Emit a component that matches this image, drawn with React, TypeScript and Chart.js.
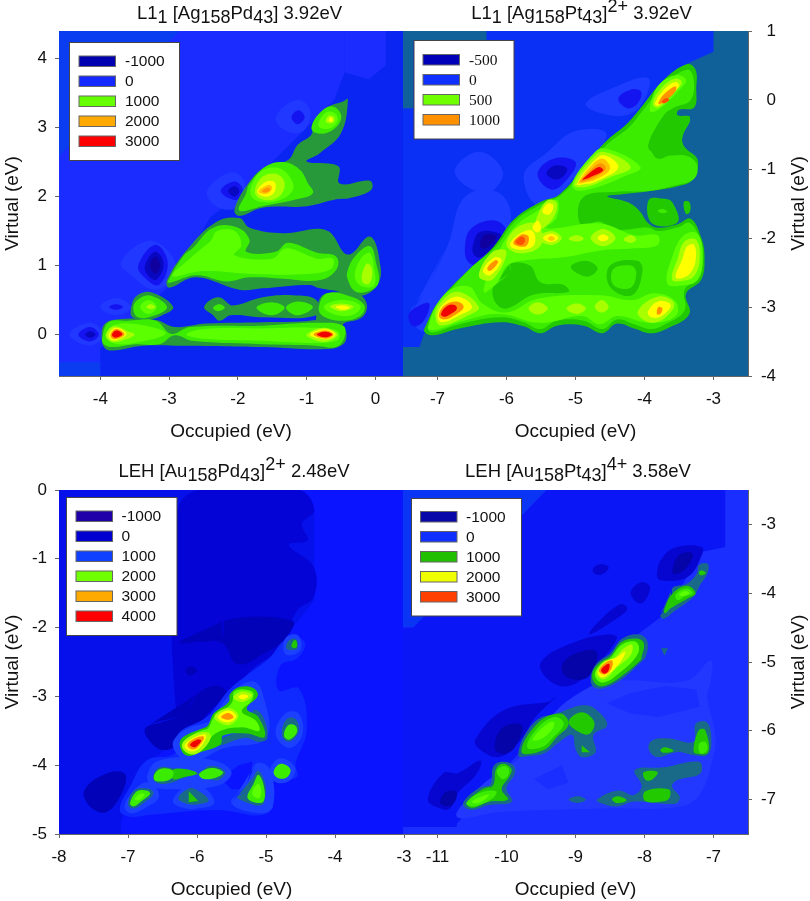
import React, { useEffect, useRef } from "react";
import { Chart, registerables } from "chart.js";

Chart.register(...registerables);

type Shape = [string, number[]];

const LEVEL_COLORS: Record<string, string> = {
  teal: "#10609a", A0: "#0a3cf0", A1: "#1a2cff", A2: "#0a24f2", A3: "#2038ff",
  BB: "#0a30f5", BH: "#1c3cff", C0: "#0a14ff", C1: "#0610ea", C2: "#0404d6", C3: "#0202b8",
  CH: "#0f2aff", CJ: "#1c40ff", D0: "#1a2eff", D1: "#0a35f5", D2: "#0a16f5", D3: "#0606d0", D4: "#0404a8", DH: "#2338ff",
  N1: "#1414f0", N2: "#0808c0", N3: "#1000a0",
  T: "#186a88", G0: "#27993a", G1: "#22c800", G2: "#3cec00", G3: "#5cff00", G4: "#a8ff00",
  Y: "#ffff00", O1: "#ffc400", O: "#ff9400", R1: "#ff5000", R: "#f00000",
};

const occupiedTicksA = [-4, -3, -2, -1, 0];
const virtualTicksA = [0, 1, 2, 3, 4];
const occupiedTicksB = [-7, -6, -5, -4, -3];
const virtualTicksB = [-4, -3, -2, -1, 0, 1];
const occupiedTicksC = [-8, -7, -6, -5, -4, -3];
const virtualTicksC = [-5, -4, -3, -2, -1, 0];
const occupiedTicksD = [-11, -10, -9, -8, -7];
const virtualTicksD = [-7, -6, -5, -4, -3];
const legendA: [string, string][] = [["-1000", "#0000b0"], ["0", "#1428ff"], ["1000", "#66ff00"], ["2000", "#ffaa00"], ["3000", "#ff0000"]];
const legendB: [string, string][] = [["-500", "#0000b8"], ["0", "#1030ff"], ["500", "#70ff00"], ["1000", "#ff9000"]];
const legendC: [string, string][] = [["-1000", "#2000a8"], ["0", "#0000d0"], ["1000", "#1040ff"], ["2000", "#70ff00"], ["3000", "#ffaa00"], ["4000", "#ff0000"]];
const legendD: [string, string][] = [["-1000", "#0808a8"], ["0", "#1030ff"], ["1000", "#20c000"], ["2000", "#f0ff00"], ["3000", "#ff4000"]];

const shapesA: Shape[] = [
  ["A1", [-4.6,-0.6, 0.4,-0.6, 0.4,4.4, -4.6,4.4]],
  ["A0", [-4.6,4.4, -2.85,4.4, -4.6,2.58]],
  ["A2", [-4,-0.6, -4,-0.2, -3,0.7, -2.4,1.7, -2,2, -1,3, -0.6,3.4, -0.45,3.8, -0.45,4.4, 0.4,4.4, 0.4,-0.6]],
  ["A1", [-0.45,4.4, 0.15,4.4, 0.15,3.9, -0.1,3.7, -0.45,3.8]],
  ["A0", [-4.6,-0.6, -4,-0.6, -4,-0.4, -4.6,-0.4]],
  ["A3", [-3.7,1.05, -3.35,1.35, -3.05,1.25, -2.9,0.9, -3.2,0.65, -3.6,0.9]],
  ["N1", [-3.45,1, -3.2,1.3, -3.02,1.05, -3.15,0.72, -3.35,0.82]],
  ["N2", [-3.35,1, -3.2,1.2, -3.08,1.03, -3.18,0.8, -3.3,0.85]],
  ["N3", [-3.28,1, -3.2,1.13, -3.13,1, -3.2,0.88]],
  ["A3", [-4.45,0, -4.15,0.17, -3.95,0, -4.15,-0.16]],
  ["N1", [-4.32,0, -4.15,0.11, -4.02,0, -4.15,-0.1]],
  ["N2", [-4.22,0, -4.14,0.05, -4.07,0, -4.14,-0.05]],
  ["A3", [-4,0.4, -3.77,0.53, -3.55,0.4, -3.77,0.28]],
  ["N1", [-3.87,0.4, -3.77,0.44, -3.67,0.4, -3.77,0.36]],
  ["A3", [-2.45,2.08, -2.1,2.35, -1.9,2.2, -2,1.85, -2.3,1.85]],
  ["N1", [-2.25,2.08, -2.05,2.22, -1.93,2.1, -2.03,1.95]],
  ["N2", [-2.14,2.08, -2.05,2.15, -1.98,2.08, -2.05,2]],
  ["A3", [-1.45,3.15, -1.15,3.4, -0.95,3.25, -1.05,2.95, -1.3,2.95]],
  ["N1", [-1.22,3.15, -1.12,3.25, -1.03,3.15, -1.13,3.05]],
  ["G0", [-3.98,-0.04, -3.94,0.15, -3.77,0.22, -3.19,0.21, -2.92,0.11, -2.46,0.16, -1.64,0.18, -0.88,0.21, -0.86,0.3, -0.79,0.55, -0.57,0.62, -0.35,0.64, -0.16,0.52, -0.13,0.35, -0.23,0.23, -0.47,0.15, -0.42,0.01, -0.47,-0.14, -0.71,-0.21, -1.64,-0.18, -2.9,-0.16, -3.38,-0.16, -3.82,-0.23, -3.94,-0.19]],
  ["G0", [-2.49,0.4, -2.29,0.54, -2.1,0.42, -1.64,0.54, -1.2,0.57, -0.86,0.5, -0.86,0.28, -1.64,0.25, -2.1,0.28, -2.27,0.2, -2.36,0.28]],
  ["G0", [-3.03,0.79, -2.73,1.24, -2.32,1.63, -1.98,1.69, -1.83,1.55, -1.34,1.47, -0.71,1.51, -0.4,1.16, -0.08,1.42, 0.07,1.01, 0.04,0.74, -0.16,0.57, -0.35,0.6, -0.81,0.67, -0.96,0.72, -1.64,0.67, -1.98,0.65, -2.61,0.83, -3,0.68]],
  ["G0", [-2.05,1.81, -1.85,2.19, -1.59,2.44, -1.27,2.53, -1.13,2.75, -0.93,2.9, -0.91,3.07, -0.71,3.29, -0.47,3.38, -0.4,3.41, -0.5,2.92, -0.81,2.63, -1,2.51, -0.54,2.44, -0.52,2.19, -0.08,2.23, -0.06,2.1, -0.37,1.98, -0.57,1.96, -1,1.86, -1.64,1.84, -1.98,1.72]],
  ["G0", [-3.55,0.4, -3.46,0.57, -3.25,0.61, -2.94,0.4, -3.1,0.28, -3.3,0.22, -3.53,0.25]],
  ["G2", [-0.93,3.01, -0.81,3.21, -0.64,3.31, -0.51,3.21, -0.52,3.07, -0.69,2.93, -0.88,2.93]],
  ["G3", [-0.83,3.03, -0.72,3.22, -0.58,3.2, -0.56,3.07, -0.7,2.98]],
  ["G4", [-0.72,3.08, -0.68,3.17, -0.6,3.15, -0.61,3.07]],
  ["Y", [-0.68,3.11, -0.65,3.15, -0.62,3.11, -0.65,3.08]],
  ["G2", [-1.88,2.05, -1.83,2.19, -1.59,2.44, -1.34,2.5, -1.1,2.39, -0.98,2.19, -0.91,2.05, -1.15,1.96, -1.64,1.86, -1.98,1.8]],
  ["G3", [-1.8,2, -1.73,2.3, -1.5,2.42, -1.3,2.35, -1.2,2.1, -1.5,1.92]],
  ["G4", [-1.75,2.05, -1.65,2.28, -1.45,2.33, -1.32,2.2, -1.4,2, -1.6,1.95]],
  ["Y", [-1.72,2.08, -1.58,2.22, -1.46,2.2, -1.48,2.05, -1.62,2]],
  ["O1", [-1.7,2.07, -1.55,2.17, -1.5,2.12, -1.58,2.04]],
  ["O", [-1.65,2.08, -1.57,2.13, -1.53,2.1, -1.6,2.06]],
  ["G2", [-3.02,0.77, -2.8,1.13, -2.66,1.25, -2.36,1.55, -2,1.55, -1.83,1.37, -1.88,1.2, -1.45,1.2, -1.27,1.33, -0.86,1.19, -0.57,1.13, -0.57,0.94, -0.81,0.79, -1.34,0.81, -1.83,0.83, -2.17,0.77, -2.6,0.86, -2.99,0.75]],
  ["G3", [-2.95,0.85, -2.7,1.1, -2.4,1.35, -2.3,1.5, -2.05,1.5, -1.95,1.3, -2.05,1.15, -1.5,1.1, -1.3,1.25, -0.85,1.1, -0.62,1.1, -0.65,0.95, -1,0.88, -1.8,0.88, -2.5,0.92]],
  ["G2", [-0.41,0.91, -0.3,1.13, -0.08,1.28, 0.01,1.03, 0.04,0.74, -0.13,0.62, -0.3,0.63, -0.4,0.79]],
  ["G3", [-0.3,0.85, -0.2,1.12, -0.08,1.18, -0.02,0.95, -0.02,0.72, -0.2,0.7]],
  ["G4", [-0.2,0.85, -0.12,1.03, -0.05,0.95, -0.08,0.75, -0.17,0.74]],
  ["G2", [-3.52,0.4, -3.42,0.53, -3.25,0.56, -3.03,0.4, -3.2,0.28, -3.45,0.25]],
  ["G3", [-3.42,0.4, -3.3,0.5, -3.18,0.4, -3.3,0.3]],
  ["G4", [-3.33,0.4, -3.27,0.44, -3.2,0.4, -3.27,0.37]],
  ["G2", [-3.97,-0.04, -3.88,0.18, -3.6,0.2, -3.19,0.2, -2.97,0.01, -2.7,0.11, -1.64,0.13, -0.86,0.17, -0.47,0.13, -0.45,-0.04, -0.57,-0.18, -0.86,-0.16, -1.64,-0.14, -2.66,-0.09, -2.92,-0.01, -3.14,-0.14, -3.48,-0.14, -3.82,-0.18, -3.95,-0.14]],
  ["G3", [-3.9,0, -3.8,0.14, -3.4,0.14, -3.05,0.02, -3.4,-0.1, -3.8,-0.13]],
  ["G3", [-2.75,0, -2.5,0.08, -1.65,0.09, -0.9,0.1, -0.55,0.05, -0.55,-0.08, -0.9,-0.12, -1.65,-0.09, -2.5,-0.06]],
  ["G4", [-3.92,0, -3.8,0.12, -3.6,0.05, -3.5,0, -3.65,-0.08, -3.85,-0.1]],
  ["Y", [-3.88,0, -3.78,0.1, -3.62,0.02, -3.7,-0.06, -3.83,-0.08]],
  ["O", [-3.85,0, -3.77,0.08, -3.65,0.01, -3.72,-0.05, -3.82,-0.06]],
  ["R", [-3.83,0, -3.77,0.06, -3.68,0.01, -3.75,-0.04, -3.8,-0.04]],
  ["G4", [-1,0, -0.75,0.1, -0.55,0, -0.7,-0.1, -0.9,-0.07]],
  ["Y", [-0.95,0, -0.73,0.08, -0.58,0, -0.72,-0.07]],
  ["O", [-0.9,0, -0.73,0.06, -0.61,0, -0.72,-0.06]],
  ["R", [-0.85,0, -0.73,0.04, -0.63,0, -0.73,-0.04]],
  ["G2", [-0.82,0.42, -0.7,0.6, -0.35,0.55, -0.16,0.42, -0.22,0.27, -0.5,0.2, -0.78,0.28]],
  ["G3", [-0.75,0.4, -0.5,0.5, -0.22,0.42, -0.3,0.3, -0.55,0.28]],
  ["G4", [-0.66,0.41, -0.48,0.45, -0.32,0.4, -0.5,0.34]],
  ["Y", [-0.58,0.4, -0.47,0.42, -0.38,0.39, -0.47,0.36]],
  ["G2", [-2.36,0.39, -2.27,0.44, -2.19,0.39, -2.29,0.34]],
  ["G2", [-1.73,0.39, -1.51,0.47, -1.32,0.39, -1.51,0.28]],
  ["G2", [-1.3,0.39, -1.13,0.48, -0.91,0.4, -1.13,0.28]],
];

const shapesB: Shape[] = [
  ["teal", [-7.5,-4, -2.5,-4, -2.5,1, -7.5,1]],
  ["BB", [-6.29,1, -3,1, -3,0.7, -3.38,0.53, -4,-0.5, -7.2,-3.4, -7.26,-3.58, -7.5,-3.58, -7.5,-0.12, -7.35,-0.12, -7.35,0.85, -6.29,0.85]],
  ["BH", [-6.75,-1.05, -6.4,-0.75, -6.05,-1.05, -6.3,-1.35]],
  ["BH", [-5.75,-1.1, -5.4,-0.75, -5,-0.45, -4.55,-0.5, -5,-1.1, -5.5,-1.55]],
  ["N1", [-5.55,-1.07, -5.32,-0.85, -5,-0.9, -5.12,-1.15, -5.35,-1.3]],
  ["N2", [-5.42,-1.07, -5.3,-0.95, -5.12,-1, -5.25,-1.15]],
  ["BH", [-4.85,-0.05, -4.4,0.2, -3.95,0.32, -3.98,0.05, -4.2,-0.2, -4.6,-0.2]],
  ["N1", [-4.38,0.02, -4.2,0.15, -4.05,0.12, -4.1,-0.05, -4.25,-0.12]],
  ["BH", [-7.4,-3.1, -7.2,-2.8, -6.85,-2.1, -6.6,-1.4, -6.1,-1.35, -5.95,-1.8, -6.5,-2.55, -7,-3.05, -7.2,-3.35]],
  ["N1", [-6.6,-2.1, -6.5,-1.85, -6.15,-1.75, -6,-1.95, -6.35,-2.38, -6.55,-2.35]],
  ["N2", [-6.48,-2.08, -6.38,-1.91, -6.09,-1.94, -6.09,-2.03, -6.38,-2.28, -6.48,-2.23]],
  ["N3", [-6.38,-2.05, -6.3,-1.95, -6.15,-1.98, -6.25,-2.12, -6.36,-2.15]],
  ["N1", [-7.42,-3.12, -7.3,-3, -7.12,-2.95, -7.2,-3.2, -7.35,-3.28]],
  ["G1", [-3.38,0.52, -3.26,0.44, -3.25,0.17, -3.28,-0.11, -3.5,-0.14, -3.52,-0.22, -3.34,-0.25, -3.45,-0.53, -3.43,-0.67, -3.23,-0.87, -3.31,-1.16, -3.52,-1.25, -3.91,-1.32, -4.25,-1.36, -4.54,-1.4, -4.25,-1.48, -4.08,-1.6, -3.94,-1.79, -3.81,-1.85, -3.52,-1.8, -3.33,-1.72, -3.18,-1.99, -3.13,-2.28, -3.18,-2.61, -3.4,-2.81, -3.35,-3.1, -3.67,-3.31, -3.91,-3.38, -4.15,-3.31, -4.4,-3.24, -4.61,-3.38, -4.88,-3.27, -5.27,-3.27, -5.51,-3.38, -5.75,-3.28, -6.09,-3.22, -6.68,-3.31, -7.07,-3.41, -7.19,-3.36, -7.17,-3.27, -6.99,-2.93, -6.58,-2.49, -6.19,-2.13, -5.9,-1.74, -5.51,-1.48, -5.22,-1.36, -4.59,-0.63, -4.25,-0.34, -4.06,-0.12, -3.72,0.29]],
  ["G1", [-3.94,-1.45, -3.72,-1.43, -3.6,-1.48, -3.52,-1.77, -3.89,-1.79]],
  ["G1", [-3.43,-1.48, -3.35,-1.48, -3.34,-1.62, -3.4,-1.65]],
  ["G2", [-3.81,-1.61, -3.74,-1.58, -3.67,-1.62, -3.74,-1.64]],
  ["G2", [-3.38,0.44, -3.29,0.31, -3.33,0, -3.57,-0.11, -3.72,-0.22, -3.94,-0.63, -3.91,-0.74, -3.62,-0.8, -3.38,-0.81, -3.24,-0.94, -3.28,-1.14, -3.57,-1.24, -3.94,-1.32, -4.4,-1.33, -4.9,-1.42, -4.92,-1.82, -4.66,-1.76, -4.42,-1.88, -3.94,-1.85, -3.8,-1.9, -3.5,-1.84, -3.35,-1.78, -3.2,-2, -3.15,-2.28, -3.22,-2.58, -3.42,-2.75, -3.42,-3.05, -3.7,-3.25, -3.91,-3.32, -4.15,-3.25, -4.4,-3.18, -4.61,-3.32, -4.88,-3.2, -5.27,-3.2, -5.51,-3.32, -5.75,-3.22, -6.09,-3.15, -6.68,-3.25, -7.07,-3.37, -7.14,-3.32, -7.12,-3.25, -6.95,-2.93, -6.55,-2.47, -6.15,-2.12, -5.87,-1.75, -5.48,-1.5, -5.2,-1.37, -4.58,-0.68, -4.23,-0.4, -4.04,-0.17, -3.7,0.24]],
  ["G1", [-3.94,-0.65, -3.84,-0.44, -3.52,-0.29, -3.34,-0.27, -3.45,-0.53, -3.43,-0.67, -3.23,-0.87, -3.38,-0.8, -3.62,-0.8, -3.81,-0.85, -3.91,-0.73]],
  ["G1", [-6.19,-2.71, -5.95,-2.49, -5.95,-2.37, -5.66,-2.4, -5.51,-2.64, -5.17,-2.68, -5.1,-2.78, -5.6,-2.82, -5.99,-3.02, -6.15,-2.95]],
  ["G1", [-5.07,-2.42, -4.85,-2.33, -4.68,-2.44, -4.83,-2.56]],
  ["G1", [-4.5,-2.4, -4.5,-2.71, -4.18,-2.83, -4.03,-2.49, -4.1,-2.33]],
  ["G2", [-4.45,-2.45, -4.45,-2.68, -4.2,-2.72, -4.12,-2.5, -4.2,-2.4]],
  ["G3", [-6.19,-2.37, -5.9,-1.86, -5.51,-1.58, -5.27,-1.45, -5.27,-1.7, -5.42,-1.86, -4.64,-1.79, -4.15,-1.96, -3.81,-1.96, -3.81,-2.1, -4.15,-2.15, -4.64,-2.18, -5.12,-2.27, -5.7,-2.32, -5.99,-2.4, -6.13,-2.64, -6.33,-2.78]],
  ["G3", [-7.14,-3.3, -6.9,-2.82, -6.55,-2.7, -6.35,-2.95, -6,-3.08, -5.55,-2.88, -4.65,-2.83, -4.18,-2.9, -3.85,-2.8, -3.55,-2.92, -3.55,-3.13, -3.91,-3.23, -4.4,-3.13, -4.65,-3.25, -4.9,-3.13, -5.52,-3.23, -6.09,-3.1, -6.62,-3.2, -7.02,-3.33]],
  ["G3", [-5.05,-1.21, -4.78,-0.82, -4.59,-0.7, -4.06,-0.97, -4.3,-1.11, -4.68,-1.26, -4.98,-1.31]],
  ["G4", [-5.02,-1.22, -4.78,-0.87, -4.6,-0.75, -4.2,-0.97, -4.5,-1.12, -4.85,-1.26]],
  ["Y", [-4.98,-1.22, -4.75,-0.9, -4.58,-0.8, -4.38,-0.98, -4.7,-1.18, -4.88,-1.22]],
  ["O1", [-4.96,-1.2, -4.75,-0.93, -4.6,-0.85, -4.5,-1, -4.7,-1.15, -4.88,-1.2]],
  ["O", [-4.93,-1.18, -4.72,-0.96, -4.62,-0.92, -4.56,-1, -4.72,-1.12, -4.88,-1.18]],
  ["R", [-4.9,-1.15, -4.72,-1, -4.65,-0.97, -4.6,-1.02, -4.75,-1.1, -4.87,-1.15]],
  ["G3", [-3.91,-0.05, -3.79,0.22, -3.55,0.36, -3.4,0.29, -3.5,0.14, -3.77,-0.12, -3.91,-0.17]],
  ["G4", [-3.88,-0.05, -3.75,0.18, -3.55,0.31, -3.46,0.25, -3.6,0.08, -3.8,-0.11]],
  ["Y", [-3.85,-0.05, -3.72,0.15, -3.55,0.26, -3.5,0.2, -3.65,0.05, -3.8,-0.08]],
  ["O", [-3.8,-0.04, -3.7,0.1, -3.55,0.2, -3.55,0.13, -3.68,0, -3.78,-0.06]],
  ["R1", [-3.75,-0.02, -3.68,0.03, -3.64,0, -3.72,-0.05]],
  ["G4", [-7.03,-3.15, -6.97,-2.95, -6.71,-2.78, -6.4,-3, -6.55,-3.12, -6.95,-3.27]],
  ["Y", [-7,-3.14, -6.93,-2.97, -6.7,-2.85, -6.5,-3, -6.7,-3.13, -6.93,-3.22]],
  ["O", [-6.98,-3.13, -6.9,-2.98, -6.72,-2.92, -6.62,-3, -6.75,-3.12, -6.9,-3.18]],
  ["R", [-6.95,-3.1, -6.85,-2.98, -6.75,-2.97, -6.72,-3.03, -6.82,-3.11, -6.9,-3.14]],
  ["G4", [-6.4,-2.55, -6.2,-2.2, -6,-2.2, -6.2,-2.6]],
  ["Y", [-6.34,-2.47, -6.17,-2.28, -6.07,-2.33, -6.24,-2.54]],
  ["O", [-6.28,-2.44, -6.16,-2.32, -6.12,-2.35, -6.24,-2.48]],
  ["G4", [-6,-2.1, -5.85,-1.85, -5.55,-1.8, -5.5,-2.1, -5.8,-2.22]],
  ["Y", [-5.95,-2.1, -5.8,-1.93, -5.62,-1.9, -5.6,-2.1, -5.8,-2.17]],
  ["O", [-5.9,-2.08, -5.78,-1.95, -5.68,-1.98, -5.72,-2.12]],
  ["R1", [-5.87,-2.06, -5.78,-1.98, -5.73,-2.03, -5.78,-2.1]],
  ["G4", [-5.55,-2, -5.35,-1.9, -5.2,-2, -5.35,-2.1]],
  ["Y", [-5.47,-2, -5.35,-1.94, -5.25,-2, -5.35,-2.06]],
  ["O1", [-5.4,-2.01, -5.35,-1.97, -5.3,-2.01, -5.35,-2.04]],
  ["G4", [-4.78,-2, -4.6,-1.87, -4.42,-2, -4.6,-2.12]],
  ["Y", [-4.68,-2, -4.6,-1.95, -4.52,-2, -4.6,-2.05]],
  ["G4", [-5.1,-2.01, -4.98,-1.96, -4.88,-2.01, -4.98,-2.05]],
  ["G4", [-4.3,-2.02, -4.2,-1.96, -4.12,-2.02, -4.2,-2.07]],
  ["G4", [-5.58,-1.9, -5.56,-1.7, -5.4,-1.45, -5.27,-1.5, -5.35,-1.75]],
  ["Y", [-5.48,-1.62, -5.4,-1.5, -5.32,-1.53, -5.38,-1.66]],
  ["Y", [-5.62,-1.85, -5.55,-1.75, -5.5,-1.85, -5.55,-1.92]],
  ["G3", [-3.67,-2.66, -3.6,-2.28, -3.43,-1.96, -3.23,-1.94, -3.16,-2.28, -3.23,-2.61, -3.47,-2.69]],
  ["G4", [-3.6,-2.6, -3.52,-2.3, -3.42,-2.05, -3.25,-2.03, -3.2,-2.3, -3.28,-2.55, -3.45,-2.62]],
  ["Y", [-3.55,-2.57, -3.45,-2.3, -3.38,-2.12, -3.28,-2.1, -3.26,-2.33, -3.33,-2.5, -3.45,-2.58]],
  ["G4", [-4.1,-3.07, -3.81,-2.85, -3.57,-2.95, -3.72,-3.17, -3.94,-3.22]],
  ["Y", [-3.95,-3.07, -3.8,-2.92, -3.62,-2.97, -3.75,-3.13, -3.9,-3.15]],
  ["O", [-3.82,-3.1, -3.8,-3, -3.74,-3.02, -3.77,-3.1]],
  ["G4", [-5.68,-3.02, -5.55,-2.93, -5.4,-3.02, -5.55,-3.11]],
  ["G4", [-5.13,-3.02, -4.98,-2.95, -4.85,-3.02, -4.98,-3.1]],
  ["G4", [-4.72,-3, -4.62,-2.9, -4.52,-3, -4.62,-3.08]],
];

const shapesC: Shape[] = [
  ["C0", [-8,-5, -3,-5, -3,0, -8,0]],
  ["C1", [-8,0, -4.5,0, -4.3,-0.3, -4.3,-1.6, -5,-2.5, -5.6,-3.1, -6.3,-3.6, -6.7,-4, -7.1,-4.8, -7.1,-5, -8,-5]],
  ["C2", [-5.98,0, -4.52,0, -4.3,-0.29, -4.48,-0.49, -4.4,-0.73, -4.67,-0.8, -4.31,-1.12, -4.31,-1.56, -4.55,-1.75, -4.8,-2.3, -5.2,-2.6, -5.6,-3.05, -6,-3.4, -6.29,-3.3, -6.29,-0.34]],
  ["C3", [-6.25,-2.2, -5.66,-2.16, -5.61,-1.9, -4.62,-1.9, -4.72,-2.16, -5.03,-2.38, -5.41,-2.53, -5.66,-2.21, -6.22,-2.23]],
  ["C3", [-6.73,-3.44, -6.2,-3.25, -6,-2.97, -5.71,-2.84, -5.57,-2.97, -5.81,-3.2, -6.2,-3.64, -6.49,-3.78, -6.73,-3.59]],
  ["C3", [-7.63,-4.36, -7.31,-4.12, -7.05,-4.12, -7.07,-4.36, -7.31,-4.68, -7.55,-4.6]],
  ["C3", [-6.17,-2.62, -6.1,-2.57, -6,-2.62, -6.1,-2.7]],
  ["CH", [-7.12,-4.65, -6.97,-4.31, -6.73,-3.93, -6.32,-3.83, -6.27,-3.54, -5.86,-3.3, -5.52,-2.89, -5.18,-2.62, -4.94,-2.43, -4.74,-2.19, -4.55,-2.14, -4.43,-2.24, -4.55,-2.45, -4.79,-2.55, -4.82,-2.91, -4.52,-2.89, -4.41,-3.49, -4.57,-3.98, -4.55,-4.17, -4.91,-4.27, -4.98,-4.7, -5.71,-4.65, -6.68,-4.72, -6.97,-4.75]],
  ["C0", [-5.65,-4.2, -5.4,-4, -5.2,-3.95, -5.2,-4.2, -5.3,-4.35, -5.5,-4.35]],
  ["CJ", [-7.05,-4.6, -6.9,-4.35, -6.7,-4.25, -6.55,-4.45, -6.75,-4.62, -6.95,-4.7]],
  ["CJ", [-6.72,-4.15, -6.55,-3.93, -5.8,-3.92, -5.5,-4.1, -5.7,-4.3, -6.45,-4.35, -6.65,-4.3]],
  ["CJ", [-6.35,-3.72, -6.2,-3.5, -5.85,-3.38, -5.5,-2.95, -5.2,-2.78, -5.05,-2.95, -5,-3.6, -5.6,-3.75, -6.1,-3.95]],
  ["CJ", [-4.86,-3.55, -4.72,-3.25, -4.53,-3.25, -4.47,-3.55, -4.66,-3.75]],
  ["CJ", [-4.75,-2.25, -4.68,-2.12, -4.53,-2.12, -4.5,-2.33, -4.7,-2.4]],
  ["CJ", [-5.5,-4.55, -5.3,-4.3, -5.15,-3.98, -4.95,-4.05, -4.9,-4.6, -5.1,-4.7]],
  ["CJ", [-6.35,-4.52, -6.12,-4.28, -5.9,-4.32, -5.75,-4.55, -6,-4.63, -6.2,-4.62]],
  ["CJ", [-4.95,-4.1, -4.8,-3.9, -4.58,-4.03, -4.65,-4.22, -4.85,-4.25]],
  ["T", [-5.7,-3.72, -5.62,-3.6, -5.28,-3.5, -5.18,-3.2, -5.05,-3.28, -4.98,-3.6, -5.1,-3.66, -5.3,-3.6]],
  ["G1", [-6.25,-3.71, -6.2,-3.59, -5.86,-3.44, -5.76,-3.25, -5.54,-3.08, -5.52,-2.96, -5.37,-2.86, -5.18,-2.88, -5.12,-2.99, -5.28,-3.18, -5.11,-3.3, -5.02,-3.59, -5.28,-3.54, -5.62,-3.57, -5.66,-3.7, -5.95,-3.81, -6.15,-3.86]],
  ["G3", [-6.2,-3.7, -6.05,-3.55, -5.85,-3.47, -5.75,-3.3, -5.5,-3.1, -5.45,-2.92, -5.2,-2.93, -5.2,-3.05, -5.35,-3.22, -5.15,-3.35, -5.1,-3.5, -5.35,-3.45, -5.7,-3.52, -5.95,-3.73]],
  ["G4", [-5.47,-3.02, -5.35,-2.93, -5.2,-2.98, -5.33,-3.08]],
  ["Y", [-5.4,-3.01, -5.33,-2.97, -5.26,-3, -5.33,-3.04]],
  ["G4", [-5.75,-3.3, -5.55,-3.17, -5.4,-3.28, -5.55,-3.42]],
  ["Y", [-5.7,-3.3, -5.55,-3.2, -5.43,-3.29, -5.55,-3.38]],
  ["O", [-5.65,-3.3, -5.55,-3.24, -5.47,-3.3, -5.55,-3.34]],
  ["G4", [-6.22,-3.72, -6.1,-3.58, -5.85,-3.52, -5.8,-3.6, -5.95,-3.8, -6.1,-3.84]],
  ["Y", [-6.18,-3.72, -6.05,-3.6, -5.87,-3.56, -5.95,-3.74, -6.08,-3.8]],
  ["O", [-6.14,-3.71, -6.03,-3.61, -5.9,-3.59, -5.97,-3.72, -6.06,-3.77]],
  ["R", [-6.1,-3.7, -6,-3.63, -5.94,-3.64, -6,-3.72, -6.05,-3.74]],
  ["T", [-4.77,-3.57, -4.7,-3.33, -4.57,-3.33, -4.53,-3.52, -4.67,-3.66]],
  ["G2", [-4.74,-3.57, -4.68,-3.42, -4.58,-3.42, -4.55,-3.52, -4.67,-3.63]],
  ["T", [-4.7,-2.31, -4.67,-2.19, -4.56,-2.17, -4.55,-2.31]],
  ["G1", [-4.63,-2.28, -4.6,-2.19, -4.56,-2.19, -4.56,-2.29]],
  ["T", [-6.63,-4.14, -6.54,-4.03, -6.32,-4.05, -6,-4.12, -5.81,-4.01, -5.59,-4.1, -5.71,-4.22, -6,-4.14, -6.2,-4.19, -6.44,-4.27, -6.61,-4.24]],
  ["G1", [-6.35,-4.07, -6.15,-4.06, -6,-4.12, -6.18,-4.17, -6.35,-4.2]],
  ["G2", [-6.62,-4.14, -6.52,-4.05, -6.35,-4.08, -6.38,-4.2, -6.6,-4.23]],
  ["G2", [-5.97,-4.13, -5.8,-4.04, -5.62,-4.1, -5.72,-4.18, -5.9,-4.2]],
  ["T", [-7,-4.56, -6.9,-4.36, -6.71,-4.34, -6.63,-4.41, -6.75,-4.53, -6.92,-4.63]],
  ["G2", [-6.97,-4.55, -6.87,-4.38, -6.72,-4.37, -6.68,-4.42, -6.8,-4.52, -6.92,-4.6]],
  ["G3", [-6.9,-4.5, -6.83,-4.42, -6.76,-4.42, -6.82,-4.5]],
  ["T", [-6.27,-4.48, -6.12,-4.34, -6,-4.36, -5.83,-4.51, -5.98,-4.57, -6.15,-4.56]],
  ["G1", [-6.12,-4.38, -5.98,-4.52, -6.12,-4.54]],
  ["T", [-5.42,-4.46, -5.27,-4.36, -5.18,-4.17, -5.11,-4.08, -5.01,-4.27, -5.01,-4.46, -5.06,-4.58, -5.23,-4.56]],
  ["G2", [-5.27,-4.46, -5.18,-4.27, -5.11,-4.14, -5.03,-4.31, -5.04,-4.53, -5.2,-4.53]],
  ["G3", [-5.2,-4.42, -5.12,-4.27, -5.07,-4.35, -5.1,-4.48]],
  ["G2", [-4.89,-4.1, -4.79,-3.98, -4.65,-4.05, -4.69,-4.17, -4.82,-4.19]],
];

const shapesD: Shape[] = [
  ["D0", [-11.5,-7.5, -6.5,-7.5, -6.5,-2.5, -11.5,-2.5]],
  ["D1", [-11.5,-2.5, -9.42,-2.5, -11.35,-4.5, -11.5,-4.5]],
  ["D2", [-9.42,-2.5, -6.83,-2.5, -6.83,-3.33, -7.17,-3.4, -7.7,-4.3, -8.1,-4.6, -8.7,-5.3, -9.8,-6.3, -10.72,-7.35, -10.72,-7.4, -11.5,-7.4, -11.5,-4.5, -11.35,-4.5]],
  ["D3", [-7.82,-3.71, -7.73,-3.47, -7.53,-3.33, -7.17,-3.33, -7.17,-3.45, -7.37,-3.76, -7.77,-3.81]],
  ["D4", [-7.58,-3.6, -7.48,-3.43, -7.3,-3.43, -7.42,-3.66, -7.58,-3.72]],
  ["D3", [-8.75,-3.65, -8.65,-3.58, -8.52,-3.62, -8.6,-3.72, -8.72,-3.72]],
  ["D3", [-8.2,-4, -8.05,-3.84, -7.92,-3.92, -8.05,-4.15]],
  ["D3", [-8.7,-4.45, -8.35,-4.16, -8.25,-4.23, -8.45,-4.4, -8.8,-4.6]],
  ["D3", [-9.5,-5, -8.98,-4.7, -8.5,-4.6, -8.4,-4.66, -8.75,-5.1, -9.1,-5.35, -9.4,-5.25]],
  ["D4", [-9.2,-5.1, -9.05,-4.9, -8.7,-4.85, -8.8,-5.2, -9.05,-5.25]],
  ["D3", [-10.45,-6.12, -10.04,-5.7, -9.4,-5.58, -9.28,-5.5, -9.6,-5.82, -9.8,-6.14, -10.1,-6.38, -10.4,-6.26]],
  ["D4", [-10.17,-6.26, -10.05,-5.95, -9.78,-5.92, -9.85,-6.19, -10,-6.33]],
  ["D3", [-11.14,-7, -10.92,-6.62, -10.72,-6.62, -10.38,-6.43, -10.43,-6.62, -10.72,-6.92, -10.82,-7.13, -10.96,-7.13]],
  ["D4", [-10.96,-7.01, -10.86,-6.88, -10.72,-6.9, -10.79,-7.08, -10.93,-7.08]],
  ["DH", [-10.72,-7.25, -10.38,-6.81, -9.85,-6.43, -9.7,-6.23, -9.27,-5.7, -8.84,-5.39, -8.54,-5.27, -8.16,-5.27, -7.38,-5.27, -7.04,-4.98, -7.04,-5.27, -7.09,-5.51, -6.97,-6.09, -7.02,-6.43, -7.19,-6.91, -7.48,-7.1, -8.64,-7.13, -10.09,-7.18]],
  ["D0", [-8.55,-5.6, -8.2,-5.45, -7.7,-5.35, -7.25,-5.4, -7.2,-5.65, -7.8,-5.8, -8.2,-5.75]],
  ["D0", [-9.6,-6.7, -9.2,-6.5, -9.1,-6.75, -9.4,-6.85]],
  ["T", [-7.77,-4.32, -7.62,-4.13, -7.6,-3.93, -7.38,-3.86, -7.24,-3.71, -7.21,-3.59, -7.09,-3.57, -7.08,-3.69, -7.21,-3.91, -7.29,-4.05, -7.58,-4.27, -7.72,-4.37]],
  ["G1", [-7.59,-4, -7.38,-3.89, -7.26,-4, -7.38,-4.08, -7.62,-4.22, -7.7,-4.29, -7.72,-4.26]],
  ["G2", [-7.55,-4.02, -7.4,-3.93, -7.3,-4, -7.42,-4.05, -7.52,-4.1]],
  ["G3", [-7.5,-4.02, -7.42,-3.97, -7.35,-4, -7.45,-4.04]],
  ["G1", [-7.21,-3.69, -7.16,-3.67, -7.11,-3.71, -7.19,-3.74]],
  ["T", [-8.78,-5.22, -8.7,-5.03, -8.5,-4.88, -8.32,-4.66, -8.08,-4.6, -7.96,-4.7, -7.98,-4.92, -8.05,-5, -8.33,-5.25, -8.6,-5.38, -8.74,-5.36]],
  ["T", [-7.76,-4.8, -7.66,-4.8, -7.71,-4.91]],
  ["G1", [-8.76,-5.19, -8.69,-5.05, -8.5,-4.92, -8.33,-4.71, -8.11,-4.66, -8.01,-4.73, -8.04,-4.92, -8.06,-4.98, -8.35,-5.22, -8.59,-5.35, -8.71,-5.32]],
  ["G3", [-8.72,-5.2, -8.65,-5.05, -8.5,-4.95, -8.33,-4.75, -8.15,-4.7, -8.08,-4.78, -8.12,-4.92, -8.35,-5.15, -8.6,-5.3]],
  ["G4", [-8.7,-5.17, -8.6,-5, -8.45,-4.95, -8.3,-4.8, -8.18,-4.75, -8.2,-4.9, -8.4,-5.08, -8.58,-5.25]],
  ["Y", [-8.67,-5.15, -8.57,-5, -8.4,-4.93, -8.28,-4.85, -8.35,-5, -8.55,-5.2, -8.63,-5.22]],
  ["O", [-8.66,-5.13, -8.58,-5.02, -8.47,-4.98, -8.48,-5.1, -8.58,-5.18]],
  ["R", [-8.63,-5.12, -8.57,-5.05, -8.51,-5.03, -8.52,-5.12, -8.58,-5.17]],
  ["T", [-9.83,-6.35, -9.59,-5.87, -9.22,-5.73, -8.88,-5.63, -8.69,-5.7, -8.54,-5.92, -8.74,-6.06, -8.71,-6.31, -8.91,-6.38, -9,-6.26, -9.05,-6.06, -9.27,-6.19, -9.42,-6.31, -9.61,-6.36]],
  ["G1", [-9.78,-6.31, -9.56,-5.9, -9.22,-5.75, -9.1,-5.9, -9.27,-6.09, -9.46,-6.28]],
  ["G1", [-9.1,-5.87, -8.91,-5.73, -8.73,-5.87, -8.79,-6.04, -8.93,-6.03]],
  ["G1", [-8.91,-6.21, -8.79,-6.31, -8.91,-6.31]],
  ["G2", [-9.7,-6.24, -9.56,-5.97, -9.3,-5.8, -9.17,-5.9, -9.32,-6.09, -9.49,-6.24]],
  ["G3", [-9.62,-6.13, -9.45,-5.93, -9.32,-5.87, -9.33,-5.97, -9.5,-6.12]],
  ["T", [-10.63,-7.06, -10.41,-6.84, -10.24,-6.79, -10.19,-6.52, -10.07,-6.45, -9.9,-6.5, -9.88,-6.62, -10,-6.84, -9.92,-7.03, -10.26,-7.08, -10.51,-7.15]],
  ["G1", [-10.58,-7.05, -10.38,-6.87, -10.2,-6.8, -10.15,-6.55, -10.05,-6.48, -9.93,-6.55, -9.95,-6.65, -10.07,-6.85, -9.98,-7, -10.25,-7.03, -10.5,-7.12]],
  ["G2", [-10.07,-6.7, -10.14,-6.58, -10.03,-6.51, -9.96,-6.57, -10,-6.68]],
  ["G2", [-10.58,-7.05, -10.38,-6.9, -10.15,-6.88, -10.2,-6.98, -10.48,-7.1]],
  ["G3", [-10.5,-7.03, -10.35,-6.95, -10.25,-6.93, -10.4,-7.05]],
  ["T", [-7.94,-6.26, -7.89,-6.14, -7.67,-6.11, -7.29,-6.16, -7.26,-5.9, -7.09,-5.88, -7.03,-6.19, -7.09,-6.35, -7.26,-6.36, -7.53,-6.31, -7.82,-6.38]],
  ["G1", [-7.29,-6.26, -7.21,-5.99, -7.12,-5.99, -7.08,-6.31, -7.26,-6.33]],
  ["G2", [-7.21,-6.19, -7.12,-6.16, -7.09,-6.28, -7.19,-6.33]],
  ["G1", [-7.77,-6.28, -7.7,-6.24, -7.58,-6.29, -7.72,-6.32]],
  ["T", [-8.69,-7, -8.4,-6.87, -8.18,-6.94, -8.04,-6.81, -8.14,-6.57, -7.72,-6.53, -7.21,-6.45, -7.19,-6.62, -7.53,-6.72, -7.6,-6.81, -7.49,-6.96, -7.55,-7.06, -8.16,-7.03, -8.4,-7.1, -8.64,-7.05]],
  ["G1", [-8.01,-6.6, -7.81,-6.6, -7.89,-6.71, -7.99,-6.71]],
  ["G1", [-7.99,-6.88, -7.65,-6.85, -7.63,-6.96, -7.7,-7.02, -7.99,-7.02]],
  ["G1", [-8.47,-6.99, -8.38,-6.95, -8.26,-7.01, -8.4,-7.05]],
  ["T", [-9.1,-7, -8.97,-6.95, -8.85,-7, -8.97,-7.05]],
];

type Panel = {
  shapes: Shape[]; xMin: number; xMax: number; yMin: number; yMax: number; xTicks: number[]; yTicks: number[];
  left: number; right: number; top: number; bottom: number; side: "left" | "right";
  legend: [string, string][]; box: [number, number, number, number]; swatchX: number; swatchY: number; textX: number; family: string;
};

const panels: Panel[] = [
  { shapes: shapesA, xMin: -4.6, xMax: 0.4, yMin: -0.6, yMax: 4.4, xTicks: occupiedTicksA, yTicks: virtualTicksA, left: 59, right: 403, top: 31, bottom: 376, side: "left", legend: legendA, box: [69.5, 42.5, 110, 118], swatchX: 79, swatchY: 56, textX: 125, family: "'Liberation Sans'" },
  { shapes: shapesB, xMin: -7.5, xMax: -2.5, yMin: -4, yMax: 1, xTicks: occupiedTicksB, yTicks: virtualTicksB, left: 403, right: 748, top: 31, bottom: 376, side: "right", legend: legendB, box: [414, 40.5, 100, 98.5], swatchX: 423, swatchY: 54.5, textX: 469, family: "'Liberation Serif'" },
  { shapes: shapesC, xMin: -8, xMax: -3, yMin: -5, yMax: 0, xTicks: occupiedTicksC, yTicks: virtualTicksC, left: 59, right: 404, top: 490, bottom: 834, side: "left", legend: legendC, box: [66.5, 497.5, 110.5, 138], swatchX: 76, swatchY: 511, textX: 121.5, family: "'Liberation Sans'" },
  { shapes: shapesD, xMin: -11.5, xMax: -6.5, yMin: -7.5, yMax: -2.5, xTicks: occupiedTicksD, yTicks: virtualTicksD, left: 403, right: 748, top: 490, bottom: 834, side: "right", legend: legendD, box: [411.5, 498.5, 110, 117.5], swatchX: 420.5, swatchY: 511.5, textX: 466, family: "'Liberation Sans'" },
];

const titles: { main: string; metal: string; alloy: string; charge: string; tail: string; center: number; top: number }[] = [
  { main: "L1", metal: "Ag", alloy: "Pd", charge: "", tail: "3.92eV", center: 239.5, top: 2 },
  { main: "L1", metal: "Ag", alloy: "Pt", charge: "2+", tail: "3.92eV", center: 581.5, top: 2 },
  { main: "LEH", metal: "Au", alloy: "Pd", charge: "2+", tail: "2.48eV", center: 234, top: 460 },
  { main: "LEH", metal: "Au", alloy: "Pt", charge: "4+", tail: "3.58eV", center: 578, top: 460 },
];

const AXIS_COLOR = "#666666";
const TICK_FONT = { family: "'Liberation Sans'", size: 17 };
const TITLE_FONT = { family: "'Liberation Sans'", size: 19 };
const RIGHT_AXIS_WIDTH = 28;

function toPoints(flat: number[], closeWrap: boolean) {
  const pts: { x: number; y: number }[] = [];
  for (let i = 0; i + 1 < flat.length; i += 2) pts.push({ x: flat[i], y: flat[i + 1] });
  pts.push({ x: flat[0], y: flat[1] });
  if (closeWrap) pts.push({ x: flat[2], y: flat[3] }, { x: flat[4], y: flat[5] });
  return pts;
}

const decor = {
  id: "panelDecor",
  afterDraw(chart: any, _args: any, opts: any) {
    const p: Panel = opts.panel;
    const ctx = chart.ctx;
    ctx.save();
    const [bx, by, bw, bh] = p.box;
    ctx.fillStyle = "#ffffff";
    ctx.strokeStyle = "#444444";
    ctx.lineWidth = 1;
    ctx.fillRect(bx, by, bw, bh);
    ctx.strokeRect(bx, by, bw, bh);
    ctx.textBaseline = "middle";
    ctx.textAlign = "left";
    ctx.font = `15.5px ${p.family}`;
    p.legend.forEach(([label, color], i) => {
      const y = p.swatchY + i * 20;
      ctx.fillStyle = color;
      ctx.fillRect(p.swatchX, y, 36.5, 10.5);
      ctx.strokeStyle = "#666666";
      ctx.strokeRect(p.swatchX, y, 36.5, 10.5);
      ctx.fillStyle = "#111111";
      ctx.fillText(label, p.textX, y + 6);
    });
    if (p.side === "right") {
      ctx.translate(799, (p.top + p.bottom) / 2);
      ctx.rotate(-Math.PI / 2);
      ctx.textAlign = "center";
      ctx.font = `${TITLE_FONT.size}px ${TITLE_FONT.family}`;
      ctx.fillStyle = "#111111";
      ctx.fillText("Virtual (eV)", 0, 0);
    }
    ctx.restore();
  },
};

const SHARP_LEVELS = ["A0", "A1", "A2", "teal", "BB", "C0", "C1", "D0", "D1", "D2"];

function PanelChart({ panel }: { panel: Panel }) {
  const ref = useRef<HTMLCanvasElement | null>(null);
  useEffect(() => {
    const n = panel.shapes.length;
    const yWidth = panel.side === "left" ? panel.left : RIGHT_AXIS_WIDTH;
    const chart = new Chart(ref.current as HTMLCanvasElement, {
      type: "scatter",
      data: {
        datasets: panel.shapes.map(([level, flat], i) => {
          const sharp = SHARP_LEVELS.includes(level) || flat.length < 8;
          return {
            data: toPoints(flat, !sharp),
            showLine: true,
            fill: "shape",
            order: n - i,
            tension: sharp ? 0 : 0.4,
            backgroundColor: LEVEL_COLORS[level],
            borderColor: LEVEL_COLORS[level],
            borderWidth: 0,
            pointRadius: 0,
            pointHoverRadius: 0,
          };
        }),
      },
      plugins: [decor],
      options: {
        animation: false,
        responsive: false,
        events: [],
        layout: {
          padding: {
            left: panel.side === "left" ? 0 : panel.left,
            right: panel.side === "left" ? 810 - panel.right : 810 - panel.right - RIGHT_AXIS_WIDTH,
            top: panel.top,
            bottom: 901 - panel.bottom - 67,
          },
        },
        plugins: { legend: { display: false }, tooltip: { enabled: false }, panelDecor: { panel }, filler: { propagate: false } } as any,
        scales: {
          x: {
            type: "linear",
            min: panel.xMin,
            max: panel.xMax,
            afterFit: (s: any) => { s.height = 67; },
            afterBuildTicks: (s: any) => { s.ticks = panel.xTicks.map((value) => ({ value })); },
            grid: { drawOnChartArea: false, drawTicks: true, tickLength: 4, tickColor: AXIS_COLOR, color: AXIS_COLOR },
            border: { color: AXIS_COLOR, width: 1 },
            ticks: { autoSkip: false, maxRotation: 0, padding: 9, color: "#111111", font: TICK_FONT, callback: (v: any) => String(v) },
            title: { display: true, text: "Occupied (eV)", color: "#111111", font: TITLE_FONT, padding: 0 },
          },
          y: {
            type: "linear",
            position: panel.side,
            min: panel.yMin,
            max: panel.yMax,
            afterFit: (s: any) => { s.width = yWidth; },
            afterBuildTicks: (s: any) => { s.ticks = panel.yTicks.map((value) => ({ value })); },
            grid: { drawOnChartArea: false, drawTicks: true, tickLength: 4, tickColor: AXIS_COLOR, color: AXIS_COLOR },
            border: { color: AXIS_COLOR, width: 1 },
            ticks: { autoSkip: false, padding: panel.side === "left" ? 8 : 9, crossAlign: panel.side === "right" ? "far" : "near", color: "#111111", font: TICK_FONT, callback: (v: any) => String(v) },
            title: { display: panel.side === "left", text: "Virtual (eV)", color: "#111111", font: TITLE_FONT, padding: 1 },
          },
        },
      } as any,
    });
    return () => chart.destroy();
  }, [panel]);
  return <canvas ref={ref} width={810} height={901} style={{ position: "absolute", left: 0, top: 0, width: 810, height: 901 }} />;
}

const subStyle: React.CSSProperties = { fontSize: 18, position: "relative", top: 3.5, lineHeight: 0 };
const supStyle: React.CSSProperties = { fontSize: 18, position: "relative", top: -7, lineHeight: 0 };

export default function App() {
  return (
    <div style={{ position: "absolute", left: 0, top: 0, width: 810, height: 901, background: "#ffffff", overflow: "hidden" }}>
      {panels.map((p, i) => <PanelChart key={i} panel={p} />)}
      {titles.map((t, i) => (
        <div key={i} style={{ position: "absolute", left: t.center, top: t.top, transform: "translateX(-50%)", whiteSpace: "nowrap", font: "18.5px/22px 'Liberation Sans'", color: "#111111" }}>
          {t.main}
          {t.main === "L1" ? <span style={subStyle}>1</span> : null}
          {" ["}{t.metal}<span style={subStyle}>158</span>{t.alloy}<span style={subStyle}>43</span>{"]"}
          {t.charge ? <span style={supStyle}>{t.charge}</span> : null}
          {" "}{t.tail}
        </div>
      ))}
    </div>
  );
}
